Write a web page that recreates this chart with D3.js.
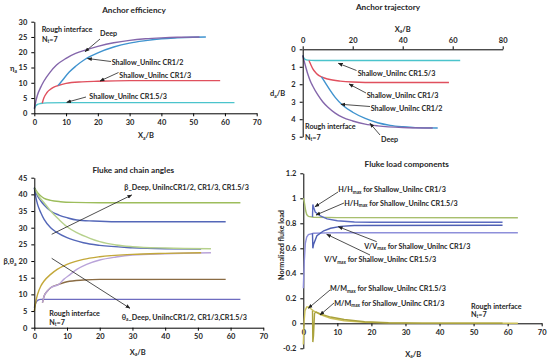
<!DOCTYPE html>
<meta charset="utf-8">
<script src="https://d3js.org/d3.v7.min.js"></script>
<style>
  body { margin: 0; background: #fff; }
  text { font-family: Lato, "Open Sans", sans-serif; font-weight: bold; fill: #262626; }
</style>
<svg id="chart" width="550" height="360"></svg>
<script>
// ---------- data ----------
// Anchor efficiency, [Xa/B, eta_a]
const effDeep = [[0,1.5],[0.5,4],[1,6],[2,8.5],[3,10.5],[5,13.5],[7,15.8],[10,18],[13,19.6],[16,20.7],[20,21.9],[25,23.1],[30,23.9],[35,24.4],[40,24.7],[45,24.9],[52,25]];
const effCR12 = [[7.5,9.1],[9,11],[11,13.5],[13,15.4],[16,17.7],[20,19.8],[25,21.7],[30,23],[35,23.8],[40,24.4],[45,24.7],[50,24.9],[54,25]];
const effCR13 = [[2.5,3.3],[3,5],[4,6.8],[5,7.8],[6,8.5],[7.5,9.1],[10,9.8],[15,10.3],[20,10.5],[30,10.7],[40,10.7],[58.5,10.7]];
const effCR153 = [[0,1.5],[0.5,2.5],[1,2.9],[2,3.2],[4,3.4],[10,3.5],[63,3.5]];

// Anchor trajectory, [Xa/B, da/B]
const trajDeep = [[0,0.35],[1,0.9],[2,1.4],[3,1.8],[4,2.1],[6,2.6],[8,3.0],[10,3.3],[13,3.65],[16,3.9],[20,4.1],[25,4.28],[30,4.38],[40,4.47],[52,4.5]];
const trajCR12 = [[7.5,1.58],[9,1.9],[11,2.35],[13,2.75],[16,3.2],[20,3.6],[25,3.95],[30,4.2],[35,4.35],[40,4.43],[45,4.48],[54,4.5]];
const trajCR13 = [[2.5,0.64],[3,0.8],[4,1.1],[5,1.3],[6,1.45],[7.5,1.58],[10,1.7],[15,1.82],[20,1.87],[30,1.9],[58.5,1.9]];
const trajCR153 = [[0,0.35],[0.5,0.5],[1,0.58],[2,0.62],[5,0.64],[63,0.64]];

// Fluke and chain angles, [Xa/B, deg]
const betaCR153 = [[0,42],[1,40.5],[2,39.5],[3,38.8],[5,38.2],[8,37.8],[12,37.6],[20,37.5],[63,37.5]];
const betaCR13 = [[0,42],[1,39.5],[2,38],[3,36.8],[5,35],[7.5,33.8],[10,33],[13,32.3],[18,32],[25,31.8],[58.5,31.8]];
const betaCR12 = [[0,42],[1,40],[3,37.5],[5,35],[7.5,32.5],[10,30.3],[13,28.5],[17,26.8],[20,25.8],[25,24.8],[30,24.3],[40,23.9],[54,23.7]];
const betaDeep = [[0,42],[0.5,39],[1,37],[2,34.5],[3,32.5],[5,30],[7,28.5],[10,27],[15,25.5],[20,24.7],[30,24],[40,23.7],[51,23.6]];
const thetaDeep = [[0,5],[0.5,8],[1,10],[2,12.5],[3,14],[5,16],[7,17.5],[10,19],[15,20.5],[20,21.3],[30,22],[40,22.3],[51,22.5]];
const thetaCR13 = [[2.5,7.5],[3,9.5],[4,11],[5,12],[7.5,13],[10,13.8],[15,14.3],[20,14.5],[58.5,14.5]];
const thetaCR12 = [[2.5,7.5],[3,9.5],[4,11],[5,12],[7.5,13],[9,14.5],[11,16],[13,17.5],[16,19],[20,20.3],[25,21.2],[30,21.8],[40,22.2],[54,22.5]];
const thetaCR153 = [[0,6],[0.5,7.5],[1,8.2],[2,8.5],[63,8.5]];

// Fluke load components, [Xa/B, normalized load]
const hCR153 = [[0,1.0],[0.3,0.97],[0.7,0.9],[1,0.87],[1.5,0.855],[3,0.848],[10,0.845],[63,0.845]];
const hCR13 = [[2.7,0.85],[2.8,0.95],[3,0.93],[3.5,0.89],[5,0.86],[7,0.835],[10,0.82],[15,0.81],[20,0.808],[58.5,0.808]];
const vCR153 = [[0,0.28],[0.3,0.5],[0.6,0.64],[1,0.69],[1.5,0.71],[3,0.72],[10,0.725],[63,0.725]];
const vCR13 = [[2.7,0.72],[2.8,0.6],[3,0.63],[4,0.7],[6,0.74],[8,0.76],[11,0.775],[15,0.782],[58.5,0.785]];
const mCR153 = [[0,-0.17],[0.2,0.0],[0.5,0.1],[1,0.13],[1.5,0.13],[2,0.12],[3,0.1],[5,0.07],[8,0.04],[12,0.02],[18,0.008],[25,0.003],[63,0.0]];
const mCR13 = [[2.7,0.1],[2.8,-0.15],[3,-0.1],[3.3,0.08],[3.8,0.09],[5,0.075],[8,0.05],[12,0.03],[18,0.012],[25,0.004],[35,0.001],[58.5,0]];

const ticks10 = [0,10,20,30,40,50,60,70];
const ticks20 = [0,20,40,60,80];

// ---------- helpers ----------
const svg = d3.select("#chart");
svg.append("rect").attr("width", 550).attr("height", 360).attr("fill", "#fff");

svg.append("defs").append("marker")
  .attr("id", "arr").attr("viewBox", "0 0 10 10").attr("refX", 9).attr("refY", 5)
  .attr("markerWidth", 6).attr("markerHeight", 6).attr("orient", "auto")
  .append("path").attr("d", "M0,1 L10,5 L0,9 z").attr("fill", "#222");

// text with subscripts: parts are strings or {s: "sub"}
function rich(x, y, parts, size, anchor) {
  const t = svg.append("text").attr("x", x).attr("y", y)
    .attr("font-size", size).attr("text-anchor", anchor || "start");
  let shifted = false;
  parts.forEach(p => {
    if (typeof p === "string") {
      t.append("tspan").attr("dy", shifted ? -size * 0.25 : 0).text(p);
      shifted = false;
    } else {
      t.append("tspan").attr("dy", size * 0.25).attr("font-size", size * 0.65).text(p.s);
      shifted = true;
    }
  });
  return t;
}

function arrow(x1, y1, x2, y2) {
  svg.append("line").attr("x1", x1).attr("y1", y1).attr("x2", x2).attr("y2", y2)
    .attr("stroke", "#222").attr("stroke-width", 0.8).attr("marker-end", "url(#arr)");
}

function styleAxis(g) {
  g.select(".domain").attr("stroke", "#000").attr("stroke-width", 1);
  g.selectAll(".tick line").attr("stroke", "#000");
  g.selectAll(".tick text").attr("font-size", 7.5).attr("fill", "#262626")
    .style("font-family", "Lato, 'Open Sans', sans-serif").style("font-weight", "bold");
}

function plot(x, y, data, color, curve) {
  svg.append("path").datum(data)
    .attr("fill", "none").attr("stroke", color).attr("stroke-width", 1.4)
    .attr("d", d3.line().x(d => x(d[0])).y(d => y(d[1])).curve(curve || d3.curveMonotoneX));
}

const fmt = d => String(+d.toFixed(1));

// ---------- panel 1: anchor efficiency ----------
{
  const x = d3.scaleLinear().domain([0, 70]).range([34.3, 256.7]);
  const y = d3.scaleLinear().domain([0, 30]).range([113.3, 21.7]);
  plot(x, y, effCR153, "#4bc4cc");
  plot(x, y, effCR13, "#e0505e");
  plot(x, y, effCR12, "#3f93cf");
  plot(x, y, effDeep, "#8466ab");
  svg.append("g").attr("transform", `translate(0,${y(0)})`)
    .call(d3.axisBottom(x).tickValues(ticks10).tickSize(3).tickSizeOuter(0).tickPadding(3)).call(styleAxis);
  svg.append("g").attr("transform", `translate(${x(0)},0)`)
    .call(d3.axisLeft(y).ticks(6).tickSize(3).tickSizeOuter(0).tickPadding(4)).call(styleAxis);
  rich(134, 12.5, ["Anchor efficiency"], 8.2, "middle");
  rich(10, 71, ["η", {s: "a"}], 7.5);
  rich(146, 138, ["X", {s: "a"}, "/B"], 7.5, "middle");
  rich(41.7, 32, ["Rough interface"], 7.2);
  rich(42, 41.5, ["N", {s: "t"}, "=7"], 7.2);
  rich(100, 36, ["Deep"], 7.2);
  arrow(100, 39, 85, 51.7);
  rich(111.7, 64.5, ["Shallow_UniInc CR1/2"], 7.2);
  arrow(111, 61.5, 87.5, 58.5);
  rich(119.3, 78, ["Shallow_UniInc CR1/3"], 7.2);
  arrow(118.5, 72.5, 100, 81);
  rich(89.3, 98.5, ["Shallow_UniInc CR1.5/3"], 7.2);
  arrow(86, 97, 66.7, 102.3);
}

// ---------- panel 2: anchor trajectory ----------
{
  const x = d3.scaleLinear().domain([0, 80]).range([302.7, 502.7]);
  const y = d3.scaleLinear().domain([0, 5]).range([49.3, 136.7]);
  plot(x, y, trajCR153, "#4bc4cc");
  plot(x, y, trajCR13, "#e0505e");
  plot(x, y, trajCR12, "#3f93cf");
  plot(x, y, trajDeep, "#8466ab");
  svg.append("g").attr("transform", `translate(0,${y(0)})`)
    .call(d3.axisTop(x).tickValues(ticks20).tickSize(3).tickSizeOuter(0).tickPadding(3)).call(styleAxis);
  svg.append("g").attr("transform", `translate(${x(0)},0)`)
    .call(d3.axisLeft(y).ticks(5).tickSize(3).tickSizeOuter(0).tickPadding(4)).call(styleAxis);
  rich(388, 10, ["Anchor trajectory"], 8.2, "middle");
  rich(402.7, 31.5, ["X", {s: "a"}, "/B"], 7.5, "middle");
  rich(270, 96, ["d", {s: "a"}, "/B"], 7.5);
  rich(357.7, 76, ["Shallow_UniInc CR1.5/3"], 7.2);
  arrow(356.5, 70.5, 338.3, 63.3);
  rich(366.7, 98, ["Shallow_UniInc CR1/3"], 7.2);
  arrow(366, 93, 349, 84);
  rich(370.7, 111, ["Shallow_UniInc CR1/2"], 7.2);
  arrow(370, 106.5, 341, 104.3);
  rich(305, 128.5, ["Rough interface"], 7.2);
  rich(305, 139.5, ["N", {s: "t"}, "=7"], 7.2);
  rich(381, 141.5, ["Deep"], 7.2);
  arrow(380, 135, 370, 123.3);
}

// ---------- panel 3: fluke and chain angles ----------
{
  const x = d3.scaleLinear().domain([0, 70]).range([34.3, 263.3]);
  const y = d3.scaleLinear().domain([0, 45]).range([327.7, 177.7]);
  plot(x, y, betaCR153, "#9dbd5c");
  plot(x, y, betaCR13, "#5467b8");
  plot(x, y, betaDeep, "#5467b8");
  plot(x, y, betaCR12, "#b6d18c");
  plot(x, y, thetaCR153, "#6e6cc0");
  plot(x, y, thetaCR13, "#8a6c44");
  plot(x, y, thetaCR12, "#b9a3d9");
  plot(x, y, thetaDeep, "#c3a83a");
  svg.append("g").attr("transform", `translate(0,${y(0)})`)
    .call(d3.axisBottom(x).tickValues(ticks10).tickSize(3).tickSizeOuter(0).tickPadding(3)).call(styleAxis);
  svg.append("g").attr("transform", `translate(${x(0)},0)`)
    .call(d3.axisLeft(y).ticks(9).tickSize(3).tickSizeOuter(0).tickPadding(4)).call(styleAxis);
  rich(133.3, 173, ["Fluke and chain angles"], 8.2, "middle");
  rich(3.5, 264, ["β,θ", {s: "a"}], 7.5);
  rich(137.7, 354.5, ["X", {s: "a"}, "/B"], 7.5, "middle");
  rich(124.3, 190, ["β_Deep, UniIncCR1/2, CR1/3, CR1.5/3"], 7.2);
  arrow(51.7, 234.3, 131.7, 195);
  rich(121.7, 319.5, ["θ", {s: "a"}, "_Deep, UniIncCR1/2, CR1/3,CR1.5/3"], 7.2);
  arrow(51.7, 258.3, 130, 308.3);
  rich(49.3, 316, ["Rough interface"], 7.2);
  rich(49.3, 324.5, ["N", {s: "t"}, "=7"], 7.2);
}

// ---------- panel 4: fluke load components ----------
{
  const x = d3.scaleLinear().domain([0, 70]).range([303.3, 541.7]);
  const y = d3.scaleLinear().domain([-0.2, 1.2]).range([348.3, 173.3]);
  svg.append("g").attr("transform", `translate(0,${y(0)})`)
    .call(d3.axisBottom(x).tickValues(ticks10).tickSize(3).tickSizeOuter(0).tickPadding(3)).call(styleAxis);
  svg.append("g").attr("transform", `translate(${x(0)},0)`)
    .call(d3.axisLeft(y).ticks(7).tickFormat(fmt).tickSize(3).tickSizeOuter(0).tickPadding(4)).call(styleAxis);
  plot(x, y, hCR153, "#a8bf6e", d3.curveLinear);
  plot(x, y, hCR13, "#5b6bc0", d3.curveLinear);
  plot(x, y, vCR153, "#8e8fda", d3.curveLinear);
  plot(x, y, vCR13, "#4e5fb3", d3.curveLinear);
  plot(x, y, mCR153, "#cdc25a", d3.curveLinear);
  plot(x, y, mCR13, "#aaa23c", d3.curveLinear);
  rich(406.7, 166.5, ["Fluke load components"], 8.2, "middle");
  rich(0, 0, ["Normalized fluke load"], 7.2, "middle").attr("transform", "translate(283.5,245) rotate(-90)");
  rich(413.3, 356.5, ["X", {s: "a"}, "/B"], 7.5, "middle");
  rich(338.3, 192, ["H/H", {s: "max"}, " for Shallow_UniInc CR1/3"], 7.2);
  arrow(338, 192, 315, 206.7);
  rich(344.3, 205.5, ["H/H", {s: "max"}, " for Shallow_UniInc CR1.5/3"], 7.2);
  arrow(344, 203, 316, 215);
  rich(364.3, 248.5, ["V/V", {s: "max"}, " for Shallow_UniInc CR1/3"], 7.2);
  arrow(376.7, 241.7, 338.3, 226.7);
  rich(324.3, 262, ["V/V", {s: "max"}, " for Shallow_UniInc CR1.5/3"], 7.2);
  arrow(370, 255, 326.7, 234.3);
  rich(330, 291, ["M/M", {s: "max"}, " for Shallow_UniInc CR1.5/3"], 7.2);
  arrow(330, 290, 308.3, 308.3);
  rich(334.3, 305.5, ["M/M", {s: "max"}, " for Shallow_UniInc CR1/3"], 7.2);
  arrow(334, 303, 320, 315);
  rich(471, 309, ["Rough interface"], 7.2);
  rich(471, 316.5, ["N", {s: "t"}, "=7"], 7.2);
}
</script>
